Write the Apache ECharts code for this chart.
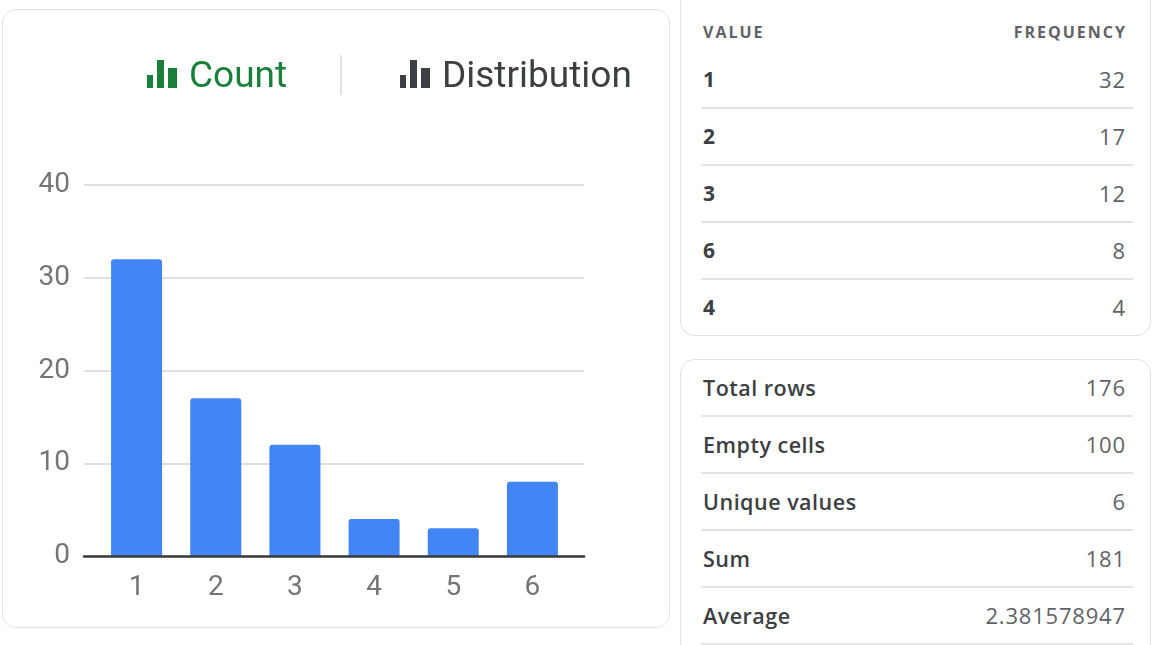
<!DOCTYPE html>
<html>
<head>
<meta charset="utf-8">
<script src="https://cdn.jsdelivr.net/npm/echarts@6/dist/echarts.min.js"></script>
<style>
  html, body { margin: 0; padding: 0; background: #fff; }
  body { width: 1152px; height: 645px; position: relative; overflow: hidden; font-family: "Open Sans", sans-serif; }
  .card { position: absolute; box-sizing: border-box; border: 1.5px solid #dfe1e5; border-radius: 14px; background: #fff; }
  #leftCard { left: 2px; top: 9px; width: 668px; height: 619px; }
  #freqCard { left: 680px; top: -30px; width: 471px; height: 366px; }
  #statCard { left: 680px; top: 359px; width: 471px; height: 320px; }
  #chart { position: absolute; left: 0; top: 0; width: 680px; height: 645px; }
  .tab { position: absolute; top: 52px; height: 44px; display: flex; align-items: center; font-family: Roboto, sans-serif; font-size: 37px; }
  .tab .icon { position: relative; width: 31px; height: 28px; margin-right: 11px; }
  .tab .icon i { position: absolute; bottom: 0; }
  .sep { position: absolute; left: 340px; top: 55px; width: 1.5px; height: 40px; background: #dfe1e5; }
  .row { position: absolute; left: 703px; width: 422px; display: flex; justify-content: space-between; align-items: center; height: 30px; }
  .line { position: absolute; left: 701px; width: 432px; height: 2px; background: #e3e4e6; }
  .hdr { font-size: 16px; font-weight: 700; letter-spacing: 2px; color: #5f6368; }
  .hdr.r { margin-right: -2px; }
  .key { font-size: 21px; font-weight: 700; color: #3c4043; }
  .lbl { font-size: 21.5px; font-weight: 600; color: #3c4043; letter-spacing: 0.5px; }
  .num { font-size: 22px; color: #5f6368; letter-spacing: 0.8px; margin-right: -0.8px; }
</style>
</head>
<body>
<div class="card" id="leftCard"></div>
<div class="card" id="freqCard"></div>
<div class="card" id="statCard"></div>
<div id="chart"></div>
<div id="tabs"></div>
<div id="tables"></div>
<script>
// chart data
const categories = ['1', '2', '3', '4', '5', '6'];
const counts = [32, 17, 12, 4, 3, 8];
const yMin = 0, yMax = 40, yStep = 10;

// frequency table (sorted by frequency)
const freqValues = ['1', '2', '3', '6', '4'];
const freqCounts = [32, 17, 12, 8, 4];

// summary stats
const statLabels = ['Total rows', 'Empty cells', 'Unique values', 'Sum', 'Average'];
const statValues = ['176', '100', '6', '181', '2.381578947'];

// tabs
const tabs = [
  { name: 'Count', color: '#188038', left: 147 },
  { name: 'Distribution', color: '#3c4043', left: 400 }
];

const tabBox = document.getElementById('tabs');
tabs.forEach(t => {
  const d = document.createElement('div');
  d.className = 'tab';
  d.style.left = t.left + 'px';
  d.style.color = t.color;
  d.innerHTML =
    '<span class="icon">' +
    '<i style="left:0;width:6px;height:13px;background:' + t.color + '"></i>' +
    '<i style="left:10px;width:7px;height:28px;background:' + t.color + '"></i>' +
    '<i style="left:21px;width:9px;height:20px;background:' + t.color + '"></i>' +
    '</span>' + t.name;
  tabBox.appendChild(d);
});
const sep = document.createElement('div');
sep.className = 'sep';
tabBox.appendChild(sep);

const tbl = document.getElementById('tables');
function addRow(y, left, right, lcls, rcls) {
  const r = document.createElement('div');
  r.className = 'row';
  r.style.top = (y - 15) + 'px';
  r.innerHTML = '<span class="' + lcls + '">' + left + '</span><span class="' + rcls + '">' + right + '</span>';
  tbl.appendChild(r);
}
function addLine(y) {
  const l = document.createElement('div');
  l.className = 'line';
  l.style.top = (y - 1) + 'px';
  tbl.appendChild(l);
}
addRow(32, 'VALUE', 'FREQUENCY', 'hdr', 'hdr r');
freqValues.forEach((v, i) => {
  addRow(79 + i * 57, v, freqCounts[i], 'key', 'num');
  if (i < freqValues.length - 1) addLine(108 + i * 57);
});
statLabels.forEach((v, i) => {
  addRow(387 + i * 57, v, statValues[i], 'lbl', 'num');
  addLine(416 + i * 57);
});

const myChart = echarts.init(document.getElementById('chart'));
const axisFont = { color: '#757575', fontSize: 28, fontFamily: 'Roboto' };
var option = {
  animation: false,
  grid: [
    // gridlines + baseline span
    { left: 84, right: 96, top: 185, bottom: 89 },
    // bars span
    { left: 97, right: 108, top: 185, bottom: 89 }
  ],
  xAxis: [
    {
      type: 'value', gridIndex: 0, min: 0, max: 1,
      axisLine: { show: true, lineStyle: { color: '#3a3a3a', width: 2.5 } },
      axisTick: { show: false }, axisLabel: { show: false }, splitLine: { show: false },
      z: 5
    },
    {
      type: 'category', gridIndex: 1, data: categories,
      axisLine: { show: false }, axisTick: { show: false },
      axisLabel: Object.assign({ margin: 18 }, axisFont)
    }
  ],
  yAxis: [
    {
      type: 'value', gridIndex: 0, min: yMin, max: yMax, interval: yStep,
      axisLine: { show: false }, axisTick: { show: false },
      axisLabel: Object.assign({ margin: 14 }, axisFont),
      splitLine: { lineStyle: { color: '#e0e0e0', width: 2 } }
    },
    {
      type: 'value', gridIndex: 1, min: yMin, max: yMax, interval: yStep,
      show: false, splitLine: { show: false }
    }
  ],
  series: [
    {
      type: 'bar', xAxisIndex: 1, yAxisIndex: 1,
      data: counts, barWidth: 51,
      itemStyle: { color: '#4285f4', borderRadius: [3, 3, 0, 0] }
    }
  ]
};
option && myChart.setOption(option);
</script>
</body>
</html>
